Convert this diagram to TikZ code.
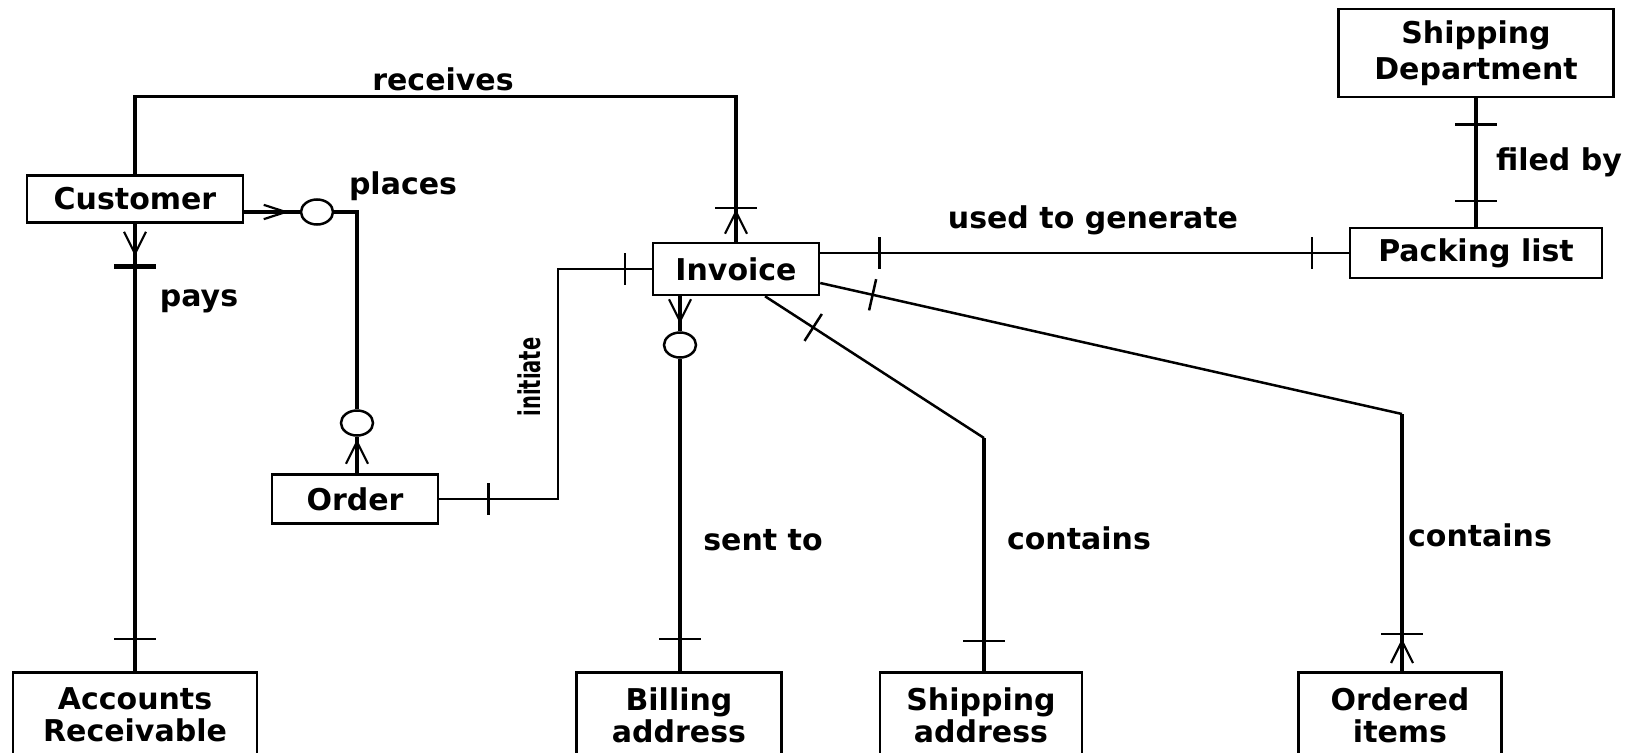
\documentclass[tikz,border=0pt]{standalone}
\usepackage{fontspec}
\setmainfont{DejaVu Sans}
\usetikzlibrary{calc,shapes.geometric}

\newcommand{\erfont}{\fontsize{30}{32}\selectfont\bfseries}

\tikzset{
  entity/.style={draw, line width=2.5pt, inner xsep=0pt, font=\erfont, align=center},
  lowbox/.style={entity, anchor=north, inner ysep=15pt, text depth=70pt},
  rel/.style={line width=3.5pt},
  thinrel/.style={line width=2.5pt},
  zero/.style={draw, ellipse, line width=2.5pt, fill=white, inner sep=0pt,
    minimum width=32pt, minimum height=25pt},
  lbl/.style={font=\erfont, inner sep=0pt},
  crowfoot/.pic={\draw[line width=2.2pt] (0,0) -- (22,0) (0,0) -- (22,11) (0,0) -- (22,-11);},
  ebar/.pic={\draw[line width=2.5pt] (0,-16) -- (0,16);},
  wbar/.pic={\draw[line width=2.5pt] (0,-21) -- (0,21);},
  heavybar/.pic={\draw[line width=5pt] (0,-21) -- (0,21);}
}

\begin{document}
\begin{tikzpicture}[x=1pt, y=-1pt]
  \useasboundingbox (0,0) rectangle (1643,752);
  \clip (0,0) rectangle (1643,752);
  \fill[white] (0,0) rectangle (1643,752);

  % Entities
  \node[entity, minimum width=216pt, minimum height=47pt] (cust) at (135,199) {Customer};
  \node[entity, minimum width=166pt, minimum height=52pt] (inv) at (736,269) {Invoice};
  \node[entity, minimum width=166pt, minimum height=49pt] (order) at (355,499) {Order};
  \node[entity, minimum width=252pt, minimum height=50pt] (pack) at (1476,253) {Packing list};
  \node[entity, minimum width=275pt, minimum height=88pt] (shipdept) at (1476,53) {Shipping\\[4pt]Department};
  \node[lowbox, minimum width=244pt] (acct) at (135,671) {Accounts\\Receivable};
  \node[lowbox, minimum width=205pt] (bill) at (679,671) {Billing\\address};
  \node[lowbox, minimum width=202pt] (shipaddr) at (981,671) {Shipping\\address};
  \node[lowbox, minimum width=203pt] (items) at (1400,671) {Ordered\\items};

  % Optional markers
  \node[zero] (optA) at (317,212) {};
  \node[zero] (optB) at (357,423) {};
  \node[zero] (optC) at (680,345) {};

  % Relationships
  \draw[rel] (cust.north) -- ++(0,-78) -| (inv.north);
  \draw[rel] (cust.east |- optA) -- (optA.west);
  \draw[rel] (optA.east) -| (optB.north);
  \draw[rel] (optB.south) -- (order.north -| optB);
  \draw[rel] (cust.south) -- (acct.north);

  \coordinate (ini) at (558,377);
  \draw[thinrel] (order.east) -| (ini) |- (inv.west);
  \draw[thinrel] (inv.east |- pack.west) -- (pack.west);
  \draw[rel] (shipdept.south) -- (pack.north);

  \draw[rel] (inv.south -| optC) -- (optC.north);
  \draw[rel] (optC.south) -- (bill.north -| optC);

  \coordinate (sa) at ($(inv.south)+(29,0)$);
  \coordinate (sabend) at (984,438);
  \draw[thinrel] (sa) -- (sabend);
  \draw[rel] (sabend) -- (sabend |- shipaddr.north);

  \coordinate (oi) at ($(inv.east)+(0,14)$);
  \coordinate (oibend) at (1402,414);
  \draw[thinrel] (oi) -- (oibend);
  \draw[rel] (oibend) -- (oibend |- items.north);

  % Crow's feet
  \pic[rotate=90] at ($(cust.south)+(0,30)$) {crowfoot};
  \pic[rotate=180, yscale=0.65] at ($(optA.west)+(-14,0)$) {crowfoot};
  \pic[rotate=-90] at ($(optB.south)+(0,5)$) {crowfoot};
  \pic[rotate=-90] at ($(inv.north)+(0,-30)$) {crowfoot};
  \pic[rotate=90] at ($(optC.north)+(0,-10)$) {crowfoot};
  \pic[rotate=-90] at ($(items.north -| oibend)+(0,-30)$) {crowfoot};

  % Bars
  \pic[rotate=90] at ($(cust.south)+(0,43)$) {heavybar};
  \pic[rotate=90] at ($(acct.north)+(0,-32)$) {wbar};
  \pic[rotate=90] at ($(inv.north)+(0,-34)$) {wbar};
  \pic[rotate=90] at ($(bill.north -| optC)+(0,-32)$) {wbar};
  \pic[rotate=90] at ($(shipaddr.north -| sabend)+(0,-30)$) {wbar};
  \pic[rotate=90] at ($(items.north -| oibend)+(0,-37)$) {wbar};
  \pic[rotate=90] at ($(shipdept.south)+(0,26)$) {wbar};
  \pic[rotate=90] at ($(pack.north)+(0,-26)$) {wbar};
  \pic at ($(inv.west)+(-27,0)$) {ebar};
  \pic at ($(order.east)+(49,0)$) {ebar};
  \pic at ($(inv.east |- pack.west)+(59,0)$) {ebar};
  \pic at ($(pack.west)+(-37,0)$) {ebar};
  \pic[rotate=-32.8] at ($(sa)!0.22!(sabend)$) {ebar};
  \pic[rotate=-12.7] at ($(oi)!0.09!(oibend)$) {ebar};

  % Labels
  \node[lbl] (lrecv) at (443,79) {receives};
  \node[lbl] (lplace) at (403,186) {places};
  \node[lbl] (lpay) at (199,301) {pays};
  \node[lbl] (lgen) at (1093,220) {used to generate};
  \node[lbl] (lfile) at (1559,162) {filed by};
  \node[lbl, rotate=90] (linit) at (529,377) {\scalebox{0.65}[1]{initiate}};
  \node[lbl] (lsent) at (763,540) {sent to};
  \node[lbl] (lcontA) at (1079,538) {contains};
  \node[lbl] (lcontB) at (1480,535) {contains};
\end{tikzpicture}
\end{document}
